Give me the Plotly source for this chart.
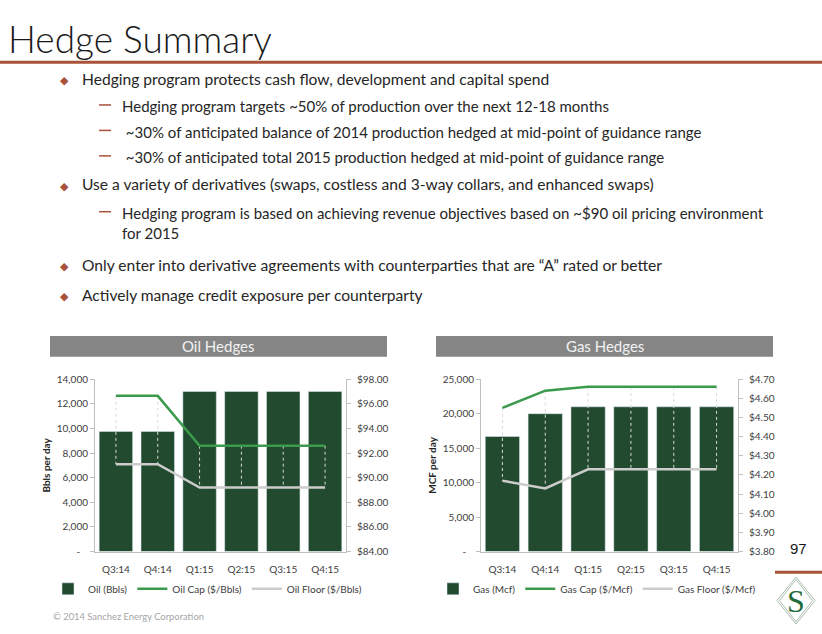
import plotly.graph_objects as go

# ---------------- data ----------------
quarters = ["Q3:14", "Q4:14", "Q1:15", "Q2:15", "Q3:15", "Q4:15"]
oil_bbls = [9750, 9750, 13000, 13000, 13000, 13000]
oil_cap = [96.65, 96.65, 92.6, 92.6, 92.6, 92.6]
oil_floor = [91.1, 91.1, 89.2, 89.2, 89.2, 89.2]
gas_mcf = [16700, 20000, 21000, 21000, 21000, 21000]
gas_cap = [4.55, 4.64, 4.66, 4.66, 4.66, 4.66]
gas_floor = [4.17, 4.13, 4.23, 4.23, 4.23, 4.23]

oil_vol_ticks = [0, 2000, 4000, 6000, 8000, 10000, 12000, 14000]
gas_vol_ticks = [0, 5000, 10000, 15000, 20000, 25000]

title = "Hedge Summary"
bullets = [
    (1, "Hedging program protects cash flow, development and capital spend"),
    (2, "Hedging program targets ~50% of production over the next 12-18 months"),
    (2, " ~30% of anticipated balance of 2014 production hedged at mid-point of guidance range"),
    (2, " ~30% of anticipated total 2015 production hedged at mid-point of guidance range"),
    (1, "Use a variety of derivatives (swaps, costless and 3-way collars, and enhanced swaps)"),
    (2, "Hedging program is based on achieving revenue objectives based on ~$90 oil pricing environment<br>for 2015"),
    (1, "Only enter into derivative agreements with counterparties that are \u201cA\u201d rated or better"),
    (1, "Actively manage credit exposure per counterparty"),
]
bullet_y = [73, 100, 126, 152, 181, 209, 263, 294]

W, H = 822, 634
def px(x): return x / W
def py(y): return 1 - y / H

BAR = "#214a2f"
CAP = "#3c9a4c"
FLOOR = "#cccccc"
DROP = "#d9d9d9"
AXIS = "#bfbfbf"
TXT = "#404040"
SIENNA = "#a9523a"

def fmt_vol(v):
    return "-\u00a0\u00a0\u00a0" if v == 0 else f"{v:,}"

def drops(cap, floor):
    xs, ys = [], []
    for q, c, f in zip(quarters, cap, floor):
        xs += [q, q, None]
        ys += [c, f, None]
    return xs, ys

fig = go.Figure()

# Oil chart
fig.add_trace(go.Bar(x=quarters, y=oil_bbls, name="Oil (Bbls)", marker_color=BAR,
                     xaxis="x", yaxis="y", legend="legend"))
dx, dy = drops(oil_cap, oil_floor)
fig.add_trace(go.Scatter(x=dx, y=dy, mode="lines", line=dict(color=DROP, width=1, dash="3px,3px"),
                         xaxis="x", yaxis="y2", showlegend=False, hoverinfo="skip"))
fig.add_trace(go.Scatter(x=quarters, y=oil_cap, name="Oil Cap ($/Bbls)", mode="lines",
                         line=dict(color=CAP, width=2.5), xaxis="x", yaxis="y2", legend="legend"))
fig.add_trace(go.Scatter(x=quarters, y=oil_floor, name="Oil Floor ($/Bbls)", mode="lines",
                         line=dict(color=FLOOR, width=2.5), xaxis="x", yaxis="y2", legend="legend"))

# Gas chart
fig.add_trace(go.Bar(x=quarters, y=gas_mcf, name="Gas (Mcf)", marker_color=BAR,
                     xaxis="x2", yaxis="y3", legend="legend2"))
dx, dy = drops(gas_cap, gas_floor)
fig.add_trace(go.Scatter(x=dx, y=dy, mode="lines", line=dict(color=DROP, width=1, dash="3px,3px"),
                         xaxis="x2", yaxis="y4", showlegend=False, hoverinfo="skip"))
fig.add_trace(go.Scatter(x=quarters, y=gas_cap, name="Gas Cap ($/Mcf)", mode="lines",
                         line=dict(color=CAP, width=2.5), xaxis="x2", yaxis="y4", legend="legend2"))
fig.add_trace(go.Scatter(x=quarters, y=gas_floor, name="Gas Floor ($/Mcf)", mode="lines",
                         line=dict(color=FLOOR, width=2.5), xaxis="x2", yaxis="y4", legend="legend2"))

tickfont = dict(family="Lato", size=10, color=TXT)
common_x = dict(type="category", showline=True, linecolor=AXIS, linewidth=1, ticks="",
                tickfont=tickfont, showgrid=False, zeroline=False, fixedrange=True,
                ticklabelstandoff=8)
common_y = dict(showline=True, linecolor=AXIS, linewidth=1, ticks="outside", ticklen=4,
                tickcolor=AXIS, tickfont=tickfont, showgrid=False, zeroline=False)

plot_top, plot_bot = 380, 556
fig.update_layout(
    width=W, height=H, margin=dict(l=0, r=0, t=0, b=0),
    paper_bgcolor="white", plot_bgcolor="white",
    font=dict(family="Lato", color=TXT),
    bargap=0.2,
    xaxis=dict(domain=[px(95), px(346)], anchor="y", **common_x),
    yaxis=dict(domain=[py(plot_bot), py(plot_top)], anchor="x", range=[0, 14000],
               tickvals=oil_vol_ticks, ticktext=[fmt_vol(v) for v in oil_vol_ticks],
               title=dict(text="<b>Bbls per day</b>", font=dict(size=10, color="#262626"), standoff=4),
               **common_y),
    yaxis2=dict(overlaying="y", side="right", anchor="x", range=[84, 98], dtick=2,
                tickformat="$,.2f", ticklabelstandoff=4, **common_y),
    xaxis2=dict(domain=[px(481), px(738)], anchor="y3", **common_x),
    yaxis3=dict(domain=[py(plot_bot), py(plot_top)], anchor="x2", range=[0, 25000],
                tickvals=gas_vol_ticks, ticktext=[fmt_vol(v) for v in gas_vol_ticks],
                title=dict(text="<b>MCF per day</b>", font=dict(size=10, color="#262626"), standoff=4),
                **common_y),
    yaxis4=dict(overlaying="y3", side="right", anchor="x2", range=[3.8, 4.7], dtick=0.1,
                tickformat="$,.2f", ticklabelstandoff=4, **common_y),
    legend=dict(orientation="h", x=px(48), y=py(594), xanchor="left", yanchor="middle",
                font=dict(size=10, color=TXT), itemwidth=30, bgcolor="rgba(0,0,0,0)"),
    legend2=dict(orientation="h", x=px(433), y=py(594), xanchor="left", yanchor="middle",
                 font=dict(size=10, color=TXT), itemwidth=30, bgcolor="rgba(0,0,0,0)"),
)

shapes = []
annotations = []

# title + rule
annotations.append(dict(text=title, x=px(6), y=py(32), xref="paper", yref="paper",
                        xanchor="left", yanchor="middle", showarrow=False,
                        font=dict(family="Lato", size=37, color="#1a1a1a", weight=300)))
shapes.append(dict(type="line", xref="paper", yref="paper", x0=0, x1=1, y0=py(56.5), y1=py(56.5),
                   line=dict(color=SIENNA, width=3)))

# bullets
for (lvl, txt), yy in zip(bullets, bullet_y):
    if lvl == 1:
        annotations.append(dict(text="\u25c6", x=px(64), y=py(yy + 1), xref="paper", yref="paper",
                                xanchor="center", yanchor="middle", showarrow=False,
                                font=dict(size=11, color=SIENNA)))
        annotations.append(dict(text=txt, x=px(80), y=py(yy), xref="paper", yref="paper",
                                xanchor="left", yanchor="middle", showarrow=False,
                                font=dict(family="Lato", size=15.6, color="#262626")))
    else:
        shapes.append(dict(type="line", xref="paper", yref="paper", x0=px(99), x1=px(111),
                           y0=py(yy), y1=py(yy), line=dict(color=SIENNA, width=1.5)))
        annotations.append(dict(text=txt, x=px(120), y=py(yy - 10), xref="paper", yref="paper",
                                xanchor="left", yanchor="top", align="left", showarrow=False,
                                font=dict(family="Lato", size=15, color="#262626")))

# chart header bars
for x0, x1, label in [(50, 387, "Oil Hedges"), (436, 773, "Gas Hedges")]:
    shapes.append(dict(type="rect", xref="paper", yref="paper", x0=px(x0), x1=px(x1),
                       y0=py(357), y1=py(336), fillcolor="#858585", line=dict(width=0)))
    annotations.append(dict(text=label, x=px((x0 + x1) / 2), y=py(346.5), xref="paper", yref="paper",
                            xanchor="center", yanchor="middle", showarrow=False,
                            font=dict(family="Lato", size=15, color="#f2f2f2")))

# footer
annotations.append(dict(text="\u00a9 2014 Sanchez Energy Corporation", x=px(51), y=py(622),
                        xref="paper", yref="paper", xanchor="left", yanchor="middle",
                        showarrow=False, font=dict(family="Lato", size=9.4, color="#a6a6a6")))
# page number
annotations.append(dict(text="97", x=px(798), y=py(553), xref="paper", yref="paper",
                        xanchor="center", yanchor="middle", showarrow=False,
                        font=dict(family="Liberation Sans", size=15, color="#1a1a1a")))
shapes.append(dict(type="line", xref="paper", yref="paper", x0=px(775), x1=1, y0=py(577), y1=py(577),
                   line=dict(color=SIENNA, width=3)))
# logo
cx, cy, hw, hh = 796, 606, 19, 24
for d in (0, 2.5):
    shapes.append(dict(type="path", xref="paper", yref="paper",
                       path=f"M {px(cx)} {py(cy - hh + d)} L {px(cx + hw - d)} {py(cy)} "
                            f"L {px(cx)} {py(cy + hh - d)} L {px(cx - hw + d)} {py(cy)} Z",
                       line=dict(color="#a9bfae", width=1)))
annotations.append(dict(text="S", x=px(cx), y=py(cy), xref="paper", yref="paper",
                        xanchor="center", yanchor="middle", showarrow=False,
                        font=dict(family="Liberation Serif", size=32, color="#1f6b3c")))

fig.update_layout(shapes=shapes, annotations=annotations)
fig.write_html("out.html")
